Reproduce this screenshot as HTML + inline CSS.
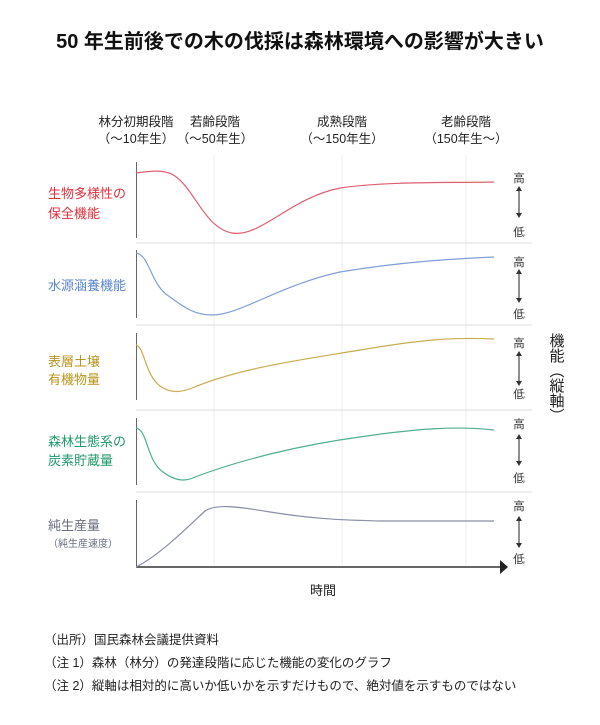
<!DOCTYPE html>
<html><head><meta charset="utf-8"><style>
body{margin:0;background:#fff;}
svg text{font-family:"Liberation Sans","Noto Sans CJK JP",sans-serif;}
</style></head><body>
<svg width="600" height="720" viewBox="0 0 600 720" xmlns="http://www.w3.org/2000/svg">
<text x="300" y="48" font-size="20" font-weight="bold" text-anchor="middle" fill="#111">50 年生前後での木の伐採は森林環境への影響が大きい</text>
<g font-size="12.5" fill="#222" text-anchor="middle">
<text x="136" y="126">林分初期段階</text><text x="136" y="143">（～10年生）</text>
<text x="215" y="126">若齢段階</text><text x="215" y="143">（～50年生）</text>
<text x="342" y="126">成熟段階</text><text x="342" y="143">（～150年生）</text>
<text x="466" y="126">老齢段階</text><text x="466" y="143">（150年生～）</text>
</g>
<g stroke="#eee" stroke-width="1">
<line x1="214" y1="155" x2="214" y2="567"/><line x1="342" y1="155" x2="342" y2="567"/><line x1="466" y1="155" x2="466" y2="567"/>
<line x1="136" y1="243" x2="532" y2="243" stroke="#ddd"/><line x1="136" y1="325" x2="532" y2="325" stroke="#ddd"/>
<line x1="136" y1="410" x2="532" y2="410" stroke="#ddd"/><line x1="136" y1="492" x2="532" y2="492" stroke="#ddd"/>
</g>
<g stroke="#666" stroke-width="1">
<line x1="136.5" y1="162" x2="136.5" y2="238"/><line x1="136.5" y1="250" x2="136.5" y2="318"/>
<line x1="136.5" y1="333" x2="136.5" y2="400"/><line x1="136.5" y1="418" x2="136.5" y2="485"/>
<line x1="136.5" y1="500" x2="136.5" y2="567"/>
</g>
<line x1="136" y1="567" x2="500" y2="567" stroke="#333" stroke-width="1.5"/>
<path d="M500,560 L508,567 L500,574 z" fill="#222"/>
<g fill="none" stroke-width="1.2">
<path d="M136,173 C150,171 165,169 175,176 C195,190 205,228 232,233 C260,238 290,198 340,188 C390,181 450,183 494,182" stroke="#e06070"/>
<path d="M136,253 C150,255 150,285 170,297 C185,308 195,315 212,315 C240,315 280,285 340,272 C400,262 450,259 494,257" stroke="#7f9fd6"/>
<path d="M136,345 C145,348 145,375 160,386 C170,393 180,393 192,388 C240,368 300,360 360,350 C420,340 450,337 494,339" stroke="#c8ac50"/>
<path d="M136,428 C148,430 146,460 163,472 C175,481 185,482 195,477 C240,460 300,445 360,437 C420,428 460,426 494,430" stroke="#4fae90"/>
<path d="M136,567 C160,555 190,525 205,511 C215,504 235,506 270,512 C320,520 350,520 380,521 C430,521 460,521 494,521" stroke="#8a8ea8"/>
</g>
<g font-size="13">
<text x="48" y="198" fill="#e0303e">生物多様性の</text><text x="48" y="218" fill="#e0303e">保全機能</text>
<text x="48" y="290" fill="#5a86cc">水源涵養機能</text>
<text x="48" y="366" fill="#b8951e">表層土壌</text><text x="48" y="384" fill="#b8951e">有機物量</text>
<text x="48" y="446" fill="#1f9a6a">森林生態系の</text><text x="48" y="465" fill="#1f9a6a">炭素貯蔵量</text>
<text x="48" y="530" fill="#6a6e80">純生産量</text>
<text x="48" y="547" fill="#6a6e80" font-size="10">（純生産速度）</text>
</g>
<g font-size="11.5" fill="#333" text-anchor="middle">
<text x="519" y="182">高</text><text x="519" y="236">低</text>
<text x="519" y="266">高</text><text x="519" y="318">低</text>
<text x="519" y="347">高</text><text x="519" y="398">低</text>
<text x="519" y="428">高</text><text x="519" y="482">低</text>
<text x="519" y="510">高</text><text x="519" y="563">低</text>
</g>
<g stroke="#444" stroke-width="1.2">
<line x1="519" y1="189" x2="519" y2="215"/><line x1="519" y1="272" x2="519" y2="300"/>
<line x1="519" y1="354" x2="519" y2="383"/><line x1="519" y1="437" x2="519" y2="463"/>
<line x1="519" y1="519" x2="519" y2="545"/>
</g>
<g fill="#333">
<path d="M516,191 L519,186 L522,191 z"/><path d="M516,213 L519,218 L522,213 z"/>
<path d="M516,274 L519,269 L522,274 z"/><path d="M516,298 L519,303 L522,298 z"/>
<path d="M516,356 L519,351 L522,356 z"/><path d="M516,381 L519,386 L522,381 z"/>
<path d="M516,439 L519,434 L522,439 z"/><path d="M516,461 L519,466 L522,461 z"/>
<path d="M516,521 L519,516 L522,521 z"/><path d="M516,543 L519,548 L522,543 z"/>
</g>
<text font-size="15" fill="#222" style="writing-mode:vertical-rl" x="556" y="333">機能（縦軸）</text>
<text x="323" y="595" font-size="13" fill="#222" text-anchor="middle">時間</text>
<g font-size="12.5" fill="#222">
<text x="44" y="644">（出所）国民森林会議提供資料</text>
<text x="44" y="667">（注 1）森林（林分）の発達段階に応じた機能の変化のグラフ</text>
<text x="44" y="690">（注 2）縦軸は相対的に高いか低いかを示すだけもので、絶対値を示すものではない</text>
</g>
</svg>
</body></html>
